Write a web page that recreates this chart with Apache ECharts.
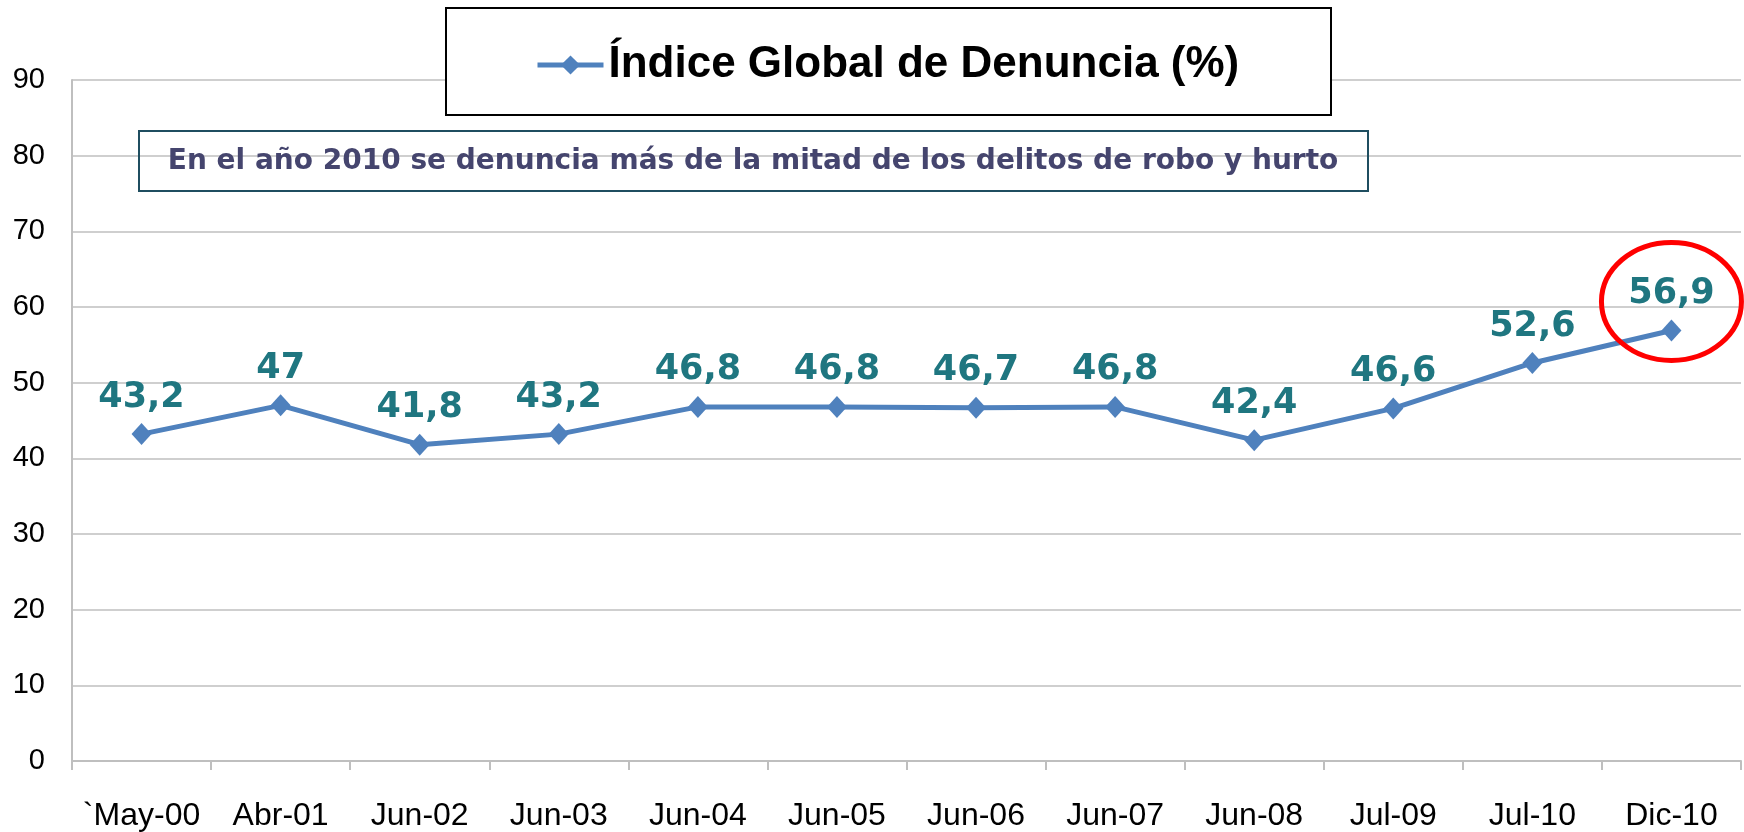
<!DOCTYPE html>
<html>
<head>
<meta charset="utf-8">
<script src="https://cdn.jsdelivr.net/npm/echarts@6/dist/echarts.min.js"></script>
<style>html,body{margin:0;padding:0;background:#fff;}#c{width:1744px;height:832px;}</style>
</head>
<body>
<div id="c"></div>
<script>
const categories = ['`May-00','Abr-01','Jun-02','Jun-03','Jun-04','Jun-05','Jun-06','Jun-07','Jun-08','Jul-09','Jul-10','Dic-10'];
const values = [43.2, 47, 41.8, 43.2, 46.8, 46.8, 46.7, 46.8, 42.4, 46.6, 52.6, 56.9];
const seriesName = 'Índice Global de Denuncia (%)';
const note = 'En el año 2010 se denuncia más de la mitad de los delitos de robo y hurto';

const chart = echarts.init(document.getElementById('c'));
const option = {
  backgroundColor: '#fff',
  animation: false,
  grid: { left: 72, right: 3, top: 80, bottom: 71, containLabel: false },
  legend: {
    data: [seriesName],
    left: 535, top: 43, padding: 0,
    itemWidth: 66, itemHeight: 24,
    lineStyle: { width: 5 },
    textStyle: { fontFamily: 'Liberation Sans', fontWeight: 'bold', fontSize: 44, color: '#000' },
    z: 10
  },
  xAxis: {
    type: 'category', data: categories, boundaryGap: true,
    axisLine: { lineStyle: { color: '#bfbfbf', width: 2 } },
    axisTick: { show: true, length: 9, lineStyle: { color: '#bfbfbf', width: 2 } },
    axisLabel: { margin: 39, color: '#000', fontFamily: 'Liberation Sans', fontSize: 32, interval: 0 },
    splitLine: { show: false }
  },
  yAxis: {
    type: 'value', min: 0, max: 90, interval: 10,
    axisLine: { show: true, lineStyle: { color: '#bfbfbf', width: 2 } },
    axisTick: { show: false },
    axisLabel: { margin: 27, color: '#000', fontFamily: 'Liberation Sans', fontSize: 29 },
    splitLine: { lineStyle: { color: '#cfcfcf', width: 2 } }
  },
  series: [{
    name: seriesName, type: 'line', data: values,
    symbol: 'diamond', symbolSize: [20, 22],
    lineStyle: { color: '#4f81bd', width: 5 },
    itemStyle: { color: '#4f81bd' },
    label: {
      show: true, position: 'top', distance: 8,
      color: '#1f7680', fontFamily: 'DejaVu Sans', fontWeight: 'bold', fontSize: 35,
      formatter: p => String(p.value).replace('.', ',')
    },
    z: 3
  }],
  graphic: [
    { type: 'rect', z: 5, shape: { x: 446, y: 8, width: 885, height: 107 },
      style: { fill: '#fff', stroke: '#000', lineWidth: 2 } },
    { type: 'rect', z: 5, shape: { x: 139, y: 131, width: 1229, height: 60 },
      style: { fill: 'transparent', stroke: '#1f4e60', lineWidth: 2 } },
    { type: 'text', z: 6, x: 753, y: 162,
      style: { text: note, fill: '#45456e', font: 'bold 28px "DejaVu Sans"', textAlign: 'center', textVerticalAlign: 'middle' } }
  ]
};
chart.setOption(option);
const last = values.length - 1;
const p = chart.convertToPixel({ seriesIndex: 0 }, [last, values[last]]);
chart.setOption({
  graphic: option.graphic.concat([
    { type: 'ellipse', z: 20, shape: { cx: p[0], cy: p[1] - 29, rx: 70, ry: 59 },
      style: { fill: 'transparent', stroke: '#ff0000', lineWidth: 5 } }
  ])
});
</script>
</body>
</html>
